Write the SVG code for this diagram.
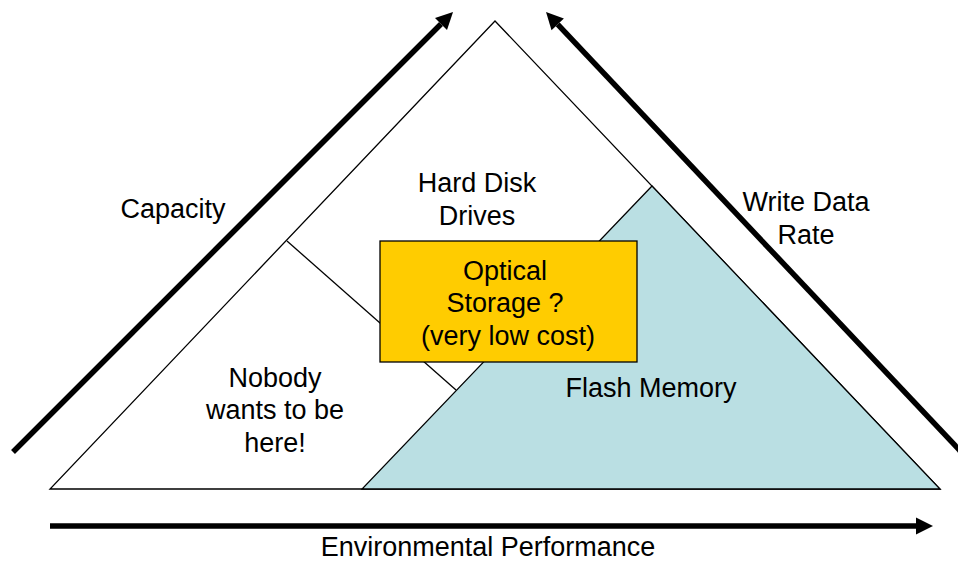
<svg xmlns="http://www.w3.org/2000/svg" width="958" height="561" viewBox="0 0 958 561">
<style>
text{font-family:"Liberation Sans",Arial,sans-serif;font-size:27px;fill:#000;text-anchor:middle}
.edge{fill:none;stroke:#000;stroke-width:5.5}
.shape{stroke:#000;stroke-width:1.3;stroke-linejoin:miter}
</style>
<defs>
<marker id="ah" markerUnits="userSpaceOnUse" viewBox="0 -9 17 18" markerWidth="17" markerHeight="18" refX="0" refY="0" orient="auto" overflow="visible">
<path d="M0,-8.5 L17,0 L0,8.5 z" fill="#000"/>
</marker>
</defs>
<g id="pyramid">
<polygon class="shape" points="495,21 50,489 940,489" fill="#fff"/>
<line class="shape" x1="287" y1="241" x2="456" y2="390"/>
</g>
<g id="flash">
<polygon class="shape" points="652,186 362,489 940,489" fill="#BADFE3"/>
<text x="651" y="397">Flash Memory</text>
</g>
<g id="hdd">
<text x="477" y="192">Hard Disk</text>
<text x="477" y="225">Drives</text>
</g>
<g id="optical">
<rect class="shape" x="380" y="241" width="257" height="121" fill="#FFCC00"/>
<text x="505" y="280">Optical</text>
<text x="505" y="312">Storage ?</text>
<text x="508" y="345">(very low cost)</text>
</g>
<g id="nobody">
<text x="275" y="387">Nobody</text>
<text x="275" y="419">wants to be</text>
<text x="275" y="452">here!</text>
</g>
<g id="connectors">
<line class="edge" x1="13" y1="452" x2="441" y2="24" marker-end="url(#ah)"/>
<line class="edge" x1="965" y1="456" x2="557.7" y2="24.4" marker-end="url(#ah)"/>
<line class="edge" x1="50" y1="526" x2="916" y2="526" marker-end="url(#ah)"/>
</g>
<g id="labels">
<text x="173" y="218">Capacity</text>
<text x="806" y="211">Write Data</text>
<text x="806" y="244">Rate</text>
<text x="488" y="556">Environmental Performance</text>
</g>
</svg>
